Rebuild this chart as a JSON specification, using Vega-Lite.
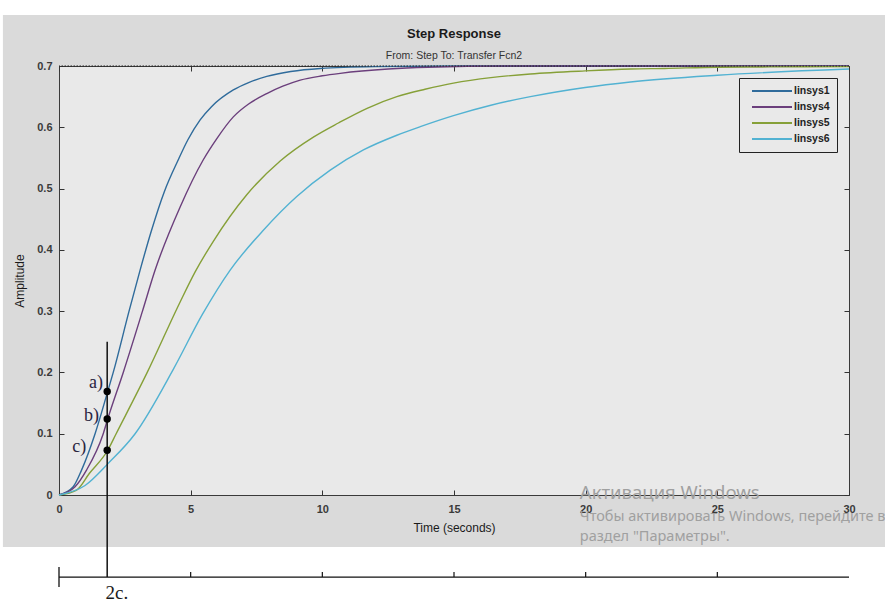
{
  "$schema": "https://vega.github.io/schema/vega-lite/v6.json",
  "width": 790,
  "height": 429,
  "autosize": {"type": "none"},
  "padding": {"left": 59, "top": 66, "right": 36, "bottom": 109},
  "background": "#dadada",
  "view": {"fill": "#e9e9e9", "stroke": "#3a3a3a", "strokeWidth": 1},
  "title": {
    "text": "Step Response",
    "subtitle": "From: Step  To: Transfer Fcn2",
    "font": "Liberation Sans",
    "fontSize": 13,
    "fontWeight": "bold",
    "color": "#1a1a1a",
    "subtitleFont": "Liberation Sans",
    "subtitleFontSize": 10.5,
    "subtitleColor": "#333333",
    "subtitlePadding": 10,
    "offset": -62,
    "anchor": "middle",
    "frame": "group"
  },
  "config": {"font": "Liberation Sans"},
  "resolve": {"axis": {"x": "independent", "y": "independent"}},
  "datasets": {
    "curves": [
      {"sys": "linsys1", "t": 0, "v": 0},
      {"sys": "linsys1", "t": 0.54, "v": 0.0135},
      {"sys": "linsys1", "t": 0.86, "v": 0.041},
      {"sys": "linsys1", "t": 1.37, "v": 0.1},
      {"sys": "linsys1", "t": 1.85, "v": 0.169},
      {"sys": "linsys1", "t": 2.06, "v": 0.2},
      {"sys": "linsys1", "t": 2.66, "v": 0.3},
      {"sys": "linsys1", "t": 3.08, "v": 0.367},
      {"sys": "linsys1", "t": 3.5, "v": 0.43},
      {"sys": "linsys1", "t": 4.0, "v": 0.495},
      {"sys": "linsys1", "t": 4.53, "v": 0.547},
      {"sys": "linsys1", "t": 4.9, "v": 0.58},
      {"sys": "linsys1", "t": 5.36, "v": 0.612},
      {"sys": "linsys1", "t": 5.8, "v": 0.634},
      {"sys": "linsys1", "t": 6.62, "v": 0.661},
      {"sys": "linsys1", "t": 7.2, "v": 0.673},
      {"sys": "linsys1", "t": 7.89, "v": 0.683},
      {"sys": "linsys1", "t": 8.8, "v": 0.691},
      {"sys": "linsys1", "t": 9.92, "v": 0.696},
      {"sys": "linsys1", "t": 12, "v": 0.699},
      {"sys": "linsys1", "t": 15, "v": 0.7},
      {"sys": "linsys1", "t": 30, "v": 0.7},
      {"sys": "linsys4", "t": 0, "v": 0},
      {"sys": "linsys4", "t": 0.61, "v": 0.0135},
      {"sys": "linsys4", "t": 1.05, "v": 0.041},
      {"sys": "linsys4", "t": 1.68, "v": 0.1},
      {"sys": "linsys4", "t": 1.85, "v": 0.124},
      {"sys": "linsys4", "t": 2.44, "v": 0.2},
      {"sys": "linsys4", "t": 3.17, "v": 0.3},
      {"sys": "linsys4", "t": 3.65, "v": 0.367},
      {"sys": "linsys4", "t": 4.6, "v": 0.47},
      {"sys": "linsys4", "t": 5.48, "v": 0.547},
      {"sys": "linsys4", "t": 6.0, "v": 0.582},
      {"sys": "linsys4", "t": 6.62, "v": 0.617},
      {"sys": "linsys4", "t": 7.2, "v": 0.638},
      {"sys": "linsys4", "t": 7.89, "v": 0.655},
      {"sys": "linsys4", "t": 8.5, "v": 0.667},
      {"sys": "linsys4", "t": 9.16, "v": 0.677},
      {"sys": "linsys4", "t": 10.0, "v": 0.684},
      {"sys": "linsys4", "t": 10.68, "v": 0.688},
      {"sys": "linsys4", "t": 12.5, "v": 0.695},
      {"sys": "linsys4", "t": 14, "v": 0.698},
      {"sys": "linsys4", "t": 17, "v": 0.7},
      {"sys": "linsys4", "t": 30, "v": 0.7},
      {"sys": "linsys5", "t": 0, "v": 0},
      {"sys": "linsys5", "t": 0.67, "v": 0.008},
      {"sys": "linsys5", "t": 1.15, "v": 0.035},
      {"sys": "linsys5", "t": 1.85, "v": 0.073},
      {"sys": "linsys5", "t": 2.17, "v": 0.1},
      {"sys": "linsys5", "t": 3.35, "v": 0.2},
      {"sys": "linsys5", "t": 4.6, "v": 0.315},
      {"sys": "linsys5", "t": 5.17, "v": 0.364},
      {"sys": "linsys5", "t": 5.86, "v": 0.414},
      {"sys": "linsys5", "t": 7.13, "v": 0.49},
      {"sys": "linsys5", "t": 8.4, "v": 0.545},
      {"sys": "linsys5", "t": 9.66, "v": 0.584},
      {"sys": "linsys5", "t": 10.61, "v": 0.607},
      {"sys": "linsys5", "t": 11.7, "v": 0.631},
      {"sys": "linsys5", "t": 12.83, "v": 0.65},
      {"sys": "linsys5", "t": 13.9, "v": 0.662},
      {"sys": "linsys5", "t": 14.98, "v": 0.672},
      {"sys": "linsys5", "t": 16.4, "v": 0.681},
      {"sys": "linsys5", "t": 17.9, "v": 0.687},
      {"sys": "linsys5", "t": 19.98, "v": 0.692},
      {"sys": "linsys5", "t": 21.7, "v": 0.695},
      {"sys": "linsys5", "t": 23, "v": 0.696},
      {"sys": "linsys5", "t": 25, "v": 0.698},
      {"sys": "linsys5", "t": 27, "v": 0.6985},
      {"sys": "linsys5", "t": 30, "v": 0.699},
      {"sys": "linsys6", "t": 0, "v": 0},
      {"sys": "linsys6", "t": 0.99, "v": 0.0155},
      {"sys": "linsys6", "t": 1.87, "v": 0.0516},
      {"sys": "linsys6", "t": 2.89, "v": 0.1},
      {"sys": "linsys6", "t": 4.34, "v": 0.205},
      {"sys": "linsys6", "t": 5.45, "v": 0.295},
      {"sys": "linsys6", "t": 6.5, "v": 0.367},
      {"sys": "linsys6", "t": 7.76, "v": 0.432},
      {"sys": "linsys6", "t": 9.03, "v": 0.487},
      {"sys": "linsys6", "t": 10.3, "v": 0.53},
      {"sys": "linsys6", "t": 11.56, "v": 0.563},
      {"sys": "linsys6", "t": 12.83, "v": 0.587},
      {"sys": "linsys6", "t": 13.72, "v": 0.601},
      {"sys": "linsys6", "t": 14.98, "v": 0.619},
      {"sys": "linsys6", "t": 16.4, "v": 0.636},
      {"sys": "linsys6", "t": 17.9, "v": 0.65},
      {"sys": "linsys6", "t": 19.98, "v": 0.665},
      {"sys": "linsys6", "t": 21.7, "v": 0.674},
      {"sys": "linsys6", "t": 25, "v": 0.685},
      {"sys": "linsys6", "t": 30, "v": 0.695}
    ],
    "points": [
      {"label": "a)", "t": 1.83, "v": 0.169},
      {"label": "b)", "t": 1.83, "v": 0.124},
      {"label": "c)", "t": 1.83, "v": 0.073}
    ],
    "labels": [
      {"label": "a)", "t": 1.67, "v": 0.183},
      {"label": "b)", "t": 1.52, "v": 0.129},
      {"label": "c)", "t": 1.03, "v": 0.078}
    ],
    "lowerTicks": [{"t": 5}, {"t": 10}, {"t": 15}, {"t": 20}, {"t": 25}],
    "one": [{}]
  },
  "layer": [
    {
      "data": {"name": "one"},
      "mark": {"type": "rect", "color": "#ffffff", "clip": false},
      "encoding": {
        "x": {"datum": -3, "axis": null},
        "x2": {"datum": 32},
        "y": {"datum": -0.0848, "axis": null},
        "y2": {"datum": -0.3}
      }
    },
    {
      "data": {"name": "one"},
      "mark": {"type": "rect", "color": "#ffffff", "clip": false},
      "encoding": {
        "x": {"datum": -3, "axis": null},
        "x2": {"datum": 32},
        "y": {"datum": 0.7832, "axis": null},
        "y2": {"datum": 0.8077}
      }
    },
    {
      "data": {"name": "one"},
      "mark": {"type": "rect", "color": "#ffffff", "clip": false},
      "encoding": {
        "x": {"datum": -3, "axis": null},
        "x2": {"datum": -2.13},
        "y": {"datum": -0.3, "axis": null},
        "y2": {"datum": 0.8077}
      }
    },
    {
      "data": {"name": "curves"},
      "mark": {"type": "line", "interpolate": "monotone", "strokeWidth": 1.4},
      "encoding": {
        "x": {
          "field": "t",
          "type": "quantitative",
          "scale": {"domain": [0, 30], "nice": false, "zero": false},
          "axis": {
            "orient": "bottom",
            "values": [0, 5, 10, 15, 20, 25, 30],
            "title": "Time (seconds)",
            "titleFont": "Liberation Sans",
            "titleFontSize": 12,
            "titleFontWeight": "normal",
            "titleColor": "#1a1a1a",
            "titlePadding": 8,
            "labelFont": "Liberation Sans",
            "labelFontSize": 11,
            "labelFontWeight": "bold",
            "labelColor": "#3a3a3a",
            "labelPadding": 13,
            "labelFlush": false,
            "tickSize": -5,
            "tickColor": "#333333",
            "domain": false,
            "grid": false
          }
        },
        "y": {
          "field": "v",
          "type": "quantitative",
          "scale": {"domain": [0, 0.7], "nice": false, "zero": false},
          "axis": {
            "orient": "left",
            "values": [0, 0.1, 0.2, 0.3, 0.4, 0.5, 0.6, 0.7],
            "format": "~g",
            "title": "Amplitude",
            "titleFont": "Liberation Sans",
            "titleFontSize": 12,
            "titleFontWeight": "normal",
            "titleColor": "#1a1a1a",
            "titlePadding": 10,
            "labelFont": "Liberation Sans",
            "labelFontSize": 11,
            "labelFontWeight": "bold",
            "labelColor": "#3a3a3a",
            "labelPadding": 12,
            "labelFlush": false,
            "tickSize": -5,
            "tickColor": "#333333",
            "domain": false,
            "grid": false
          }
        },
        "color": {
          "field": "sys",
          "type": "nominal",
          "scale": {
            "domain": ["linsys1", "linsys4", "linsys5", "linsys6"],
            "range": ["#2f6b9b", "#6b3f7c", "#86a038", "#52b2d2"]
          },
          "legend": {
            "orient": "none",
            "legendX": 680,
            "legendY": 12,
            "title": null,
            "symbolType": "M0,0H8",
            "symbolSize": 100,
            "symbolStrokeWidth": 2,
            "labelFont": "Liberation Sans",
            "labelFontSize": 10.5,
            "labelFontWeight": "bold",
            "labelColor": "#222222",
            "labelOffset": 36,
            "padding": 7,
            "rowPadding": 4,
            "strokeColor": "#222222",
            "fillColor": "#e9e9e9"
          }
        }
      }
    },
    {
      "data": {"name": "one"},
      "mark": {"type": "rule", "strokeDash": [1.5, 1.5], "color": "#222222", "strokeWidth": 1},
      "encoding": {"y": {"datum": 0.7, "axis": null}}
    },
    {
      "data": {"name": "one"},
      "mark": {"type": "rule", "color": "#111111", "strokeWidth": 1.5, "clip": false},
      "encoding": {
        "x": {"datum": 1.83, "axis": null},
        "y": {"datum": 0.25, "axis": null},
        "y2": {"datum": -0.134}
      }
    },
    {
      "data": {"name": "one"},
      "mark": {"type": "rule", "color": "#111111", "strokeWidth": 1.3, "clip": false},
      "encoding": {
        "x": {"datum": 0, "axis": null},
        "x2": {"datum": 30},
        "y": {"datum": -0.134, "axis": null}
      }
    },
    {
      "data": {"name": "one"},
      "mark": {"type": "rule", "color": "#111111", "strokeWidth": 1.3, "clip": false},
      "encoding": {
        "x": {"datum": 0, "axis": null},
        "y": {"datum": -0.1175, "axis": null},
        "y2": {"datum": -0.15}
      }
    },
    {
      "data": {"name": "lowerTicks"},
      "mark": {"type": "rule", "color": "#111111", "strokeWidth": 1.2, "clip": false},
      "encoding": {
        "x": {"field": "t", "type": "quantitative", "axis": null},
        "y": {"datum": -0.134, "axis": null},
        "y2": {"datum": -0.1255}
      }
    },
    {
      "data": {"name": "points"},
      "mark": {"type": "circle", "size": 55, "color": "#000000", "opacity": 1},
      "encoding": {
        "x": {
          "field": "t",
          "type": "quantitative",
          "axis": {
            "orient": "top",
            "values": [0, 5, 10, 15, 20, 25, 30],
            "labels": false,
            "title": null,
            "tickSize": -5,
            "tickColor": "#333333",
            "domain": false,
            "grid": false
          }
        },
        "y": {
          "field": "v",
          "type": "quantitative",
          "axis": {
            "orient": "right",
            "values": [0, 0.1, 0.2, 0.3, 0.4, 0.5, 0.6, 0.7],
            "labels": false,
            "title": null,
            "tickSize": -5,
            "tickColor": "#333333",
            "domain": false,
            "grid": false
          }
        }
      }
    },
    {
      "data": {"name": "labels"},
      "mark": {"type": "text", "font": "Liberation Serif", "fontSize": 18, "align": "right", "baseline": "middle", "color": "#2a2440"},
      "encoding": {
        "x": {"field": "t", "type": "quantitative", "axis": null},
        "y": {"field": "v", "type": "quantitative", "axis": null},
        "text": {"field": "label"}
      }
    },
    {
      "data": {"name": "one"},
      "mark": {"type": "text", "font": "Liberation Serif", "fontSize": 19, "align": "center", "baseline": "middle", "color": "#1a1a1a", "text": "2c.", "clip": false},
      "encoding": {
        "x": {"datum": 2.2, "axis": null},
        "y": {"datum": -0.16, "axis": null}
      }
    },
    {
      "data": {"name": "one"},
      "mark": {"type": "text", "font": "Noto Sans", "fontSize": 18.5, "align": "left", "baseline": "middle", "color": "#a0a0a0", "text": "Активация Windows", "clip": false},
      "encoding": {
        "x": {"datum": 19.78, "axis": null},
        "y": {"datum": 0.004, "axis": null}
      }
    },
    {
      "data": {"name": "one"},
      "mark": {"type": "text", "font": "Noto Sans", "fontSize": 14.5, "align": "left", "baseline": "middle", "color": "#a0a0a0", "text": "Чтобы активировать Windows, перейдите в", "clip": false},
      "encoding": {
        "x": {"datum": 19.78, "axis": null},
        "y": {"datum": -0.036, "axis": null}
      }
    },
    {
      "data": {"name": "one"},
      "mark": {"type": "text", "font": "Noto Sans", "fontSize": 14.5, "align": "left", "baseline": "middle", "color": "#a0a0a0", "text": "раздел \"Параметры\".", "clip": false},
      "encoding": {
        "x": {"datum": 19.78, "axis": null},
        "y": {"datum": -0.0685, "axis": null}
      }
    }
  ]
}
